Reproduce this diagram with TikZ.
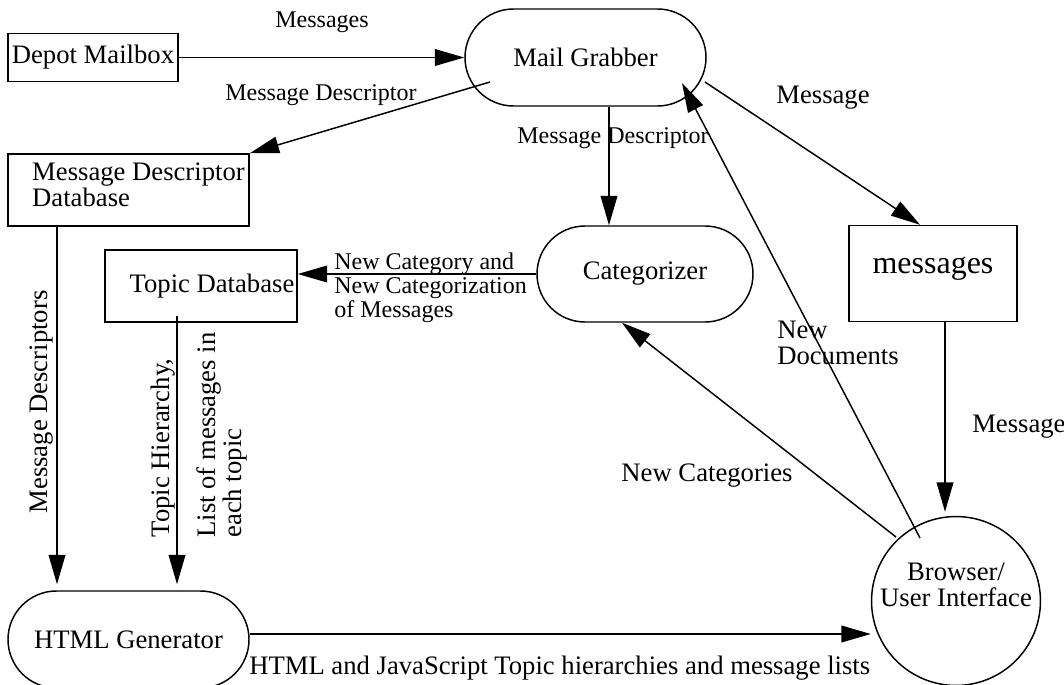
\documentclass[tikz,border=0pt]{standalone}
\usepackage{fontspec}
\setmainfont{Liberation Serif}
\usetikzlibrary{arrows.meta,calc,shapes.misc}
\tikzset{
  storebox/.style={draw, rectangle, line width=1.1pt, inner sep=0pt, align=center, font=\fontsize{20}{19.5}\selectfont},
  procbox/.style={draw, rounded rectangle, line width=1.1pt, inner sep=0pt, align=center, font=\fontsize{20}{19.5}\selectfont},
  uicircle/.style={draw, circle, line width=1.1pt, inner sep=0pt, align=center, font=\fontsize{20}{19.5}\selectfont},
  flowarr/.style={-{Triangle[length=22pt, width=12.5pt]}, line width=1.1pt},
  flowlbl/.style={inner sep=0pt, align=left, font=\fontsize{20}{20}\selectfont},
  smalllbl/.style={inner sep=0pt, align=left, font=\fontsize{18}{18}\selectfont}
}

\begin{document}
\begin{tikzpicture}[x=0.75pt, y=-0.75pt]
\useasboundingbox (0,0) rectangle (1064,685);
% stores and processes
\node[storebox, minimum width=127.5pt, minimum height=36pt] (depot) at (93,57.5) {Depot Mailbox};
\node[procbox, minimum width=180.75pt, minimum height=72.75pt] (grab) at (585.5,57.5) {Mail Grabber};
\node[storebox, minimum width=180.75pt, minimum height=54pt, align=left, text depth=8pt] (mdd) at (128.5,190) {\hspace*{15pt}Message Descriptor\\\hspace*{15pt}Database};
\node[storebox, minimum width=144pt, minimum height=54pt] (tdb) at (201,286) {\hspace*{16.5pt}Topic Database};
\node[procbox, minimum width=162pt, minimum height=72pt] (cat) at (645,274) {Categorizer};
\node[storebox, minimum width=126pt, minimum height=72pt, font=\fontsize{24}{24}\selectfont, text height=11pt, text depth=11pt] (msgs) at (933,273.5) {messages};
\node[procbox, minimum width=180.75pt, minimum height=72.75pt] (html) at (128.5,639.5) {HTML Generator};
\node[uicircle, minimum size=126pt, text depth=24pt] (ui) at (956,601) {Browser/\\User Interface};

% free ends of the slanted flows
\coordinate (grabsw) at (490,82);
\coordinate (grabse) at (705,82);
\coordinate (grabin) at (682,83);
\coordinate (uinw) at (896,537);
\coordinate (uin) at (920,538);
\coordinate (tdbout) at (177,316);
\coordinate (mdx) at (57,0);
\coordinate (mgx) at (609,0);
\coordinate (msx) at (945,0);
\coordinate (htmly) at (0,634);

% flows
\draw[flowarr] (depot.east) -- (grab.west);
\draw[flowarr] (grabsw) -- (mdd.north east);
\draw[flowarr] (grab.south -| mgx) -- (cat.north -| mgx);
\draw[flowarr] (grabse) -- ($(msgs.north)+(-13,0)$);
\draw[flowarr] (cat.west) -- (cat.west -| tdb.east);
\draw[flowarr, shorten >=4.5pt] (mdd.south -| mdx) -- (html.north -| mdx);
\draw[flowarr, shorten >=4.5pt] (tdbout) -- (html.north -| tdbout);
\draw[flowarr] (html.east |- htmly) -- (ui.west |- htmly);
\draw[flowarr, shorten >=3pt] (msgs.south -| msx) -- (ui.north -| msx);
\draw[flowarr] (uinw) -- ($(cat.south)+(-23,0)$);
\draw[flowarr] (uin) -- (grabin);

% labels
\node[smalllbl] (lmsgs) at (322,22) {Messages};
\node[smalllbl] (ldesc) at (321,95) {Message Descriptor};
\node[smalllbl] (ldesc2) at (613,138) {Message Descriptor};
\node[flowlbl] (lmsg) at (823,98) {Message};
\node[smalllbl, anchor=west] (lnewcat) at (334,288) {New Category and\\New Categorization\\of Messages};
\node[flowlbl, rotate=90] (lmdescs) at (42,402) {Message Descriptors};
\node[flowlbl, rotate=90] (ltopic) at (163,448) {Topic Hierarchy,};
\node[flowlbl, rotate=90] (llist) at (222,435) {List of messages in\\each topic};
\node[flowlbl, anchor=west] (lhtml) at (249,668) {HTML and JavaScript Topic hierarchies and message lists};
\node[flowlbl, anchor=west] (lmsg2) at (972,427) {Message};
\node[flowlbl] (lnewcats) at (707,476) {New Categories};
\node[flowlbl, anchor=west] (lnewdocs) at (777,343) {New\\Documents};
\end{tikzpicture}
\end{document}
